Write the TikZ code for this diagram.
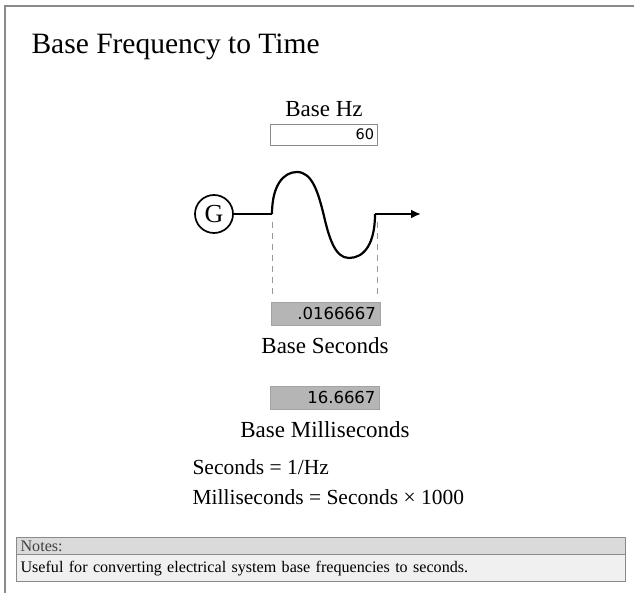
\documentclass[tikz,border=0pt]{standalone}
\usepackage{fontspec}
\setmainfont{Liberation Serif}
\newfontfamily\numfont{DejaVu Sans}
\usetikzlibrary{arrows.meta}
\definecolor{framegray}{HTML}{8A8A8A}
\definecolor{valfill}{HTML}{B5B5B5}
\definecolor{nhfill}{HTML}{DADADA}
\definecolor{nbfill}{HTML}{F0F0F0}
\begin{document}
\begin{tikzpicture}[x=1pt,y=-1pt,
  serif/.style={font=\fontsize{23}{27}\selectfont},
  formula/.style={font=\fontsize{21.5}{25}\selectfont},
  inbox/.style={draw=framegray, line width=0.8pt, fill=white, minimum width=107pt, minimum height=21pt,
    text width=101pt, align=right, inner sep=3pt, font=\numfont\fontsize{14.5}{16}\selectfont},
  valbox/.style={draw=valfill!90!black, line width=0.5pt, fill=valfill, minimum width=109pt, minimum height=23pt,
    text width=101pt, align=right, inner xsep=4pt, inner ysep=2pt, font=\numfont\fontsize{16.5}{18}\selectfont},
  wire/.style={line width=2.2pt, black},
  guide/.style={draw=gray!80, line width=1pt, dash pattern=on 6pt off 5pt},
  notebox/.style={draw=framegray, line width=1.2pt, minimum width=609pt, text width=601pt, align=left,
    inner xsep=4pt, anchor=north west, font=\fontsize{16.1}{19}\selectfont}
]
\useasboundingbox (0,0) rectangle (634,593);
\fill[white] (0,0) rectangle (634,593);
% outer frame
\draw[framegray, line width=2.6pt] (5,593) -- (5,6) -- (634,6);

\node[anchor=base west, font=\fontsize{29.5}{34}\selectfont] (title) at (28,54) {Base Frequency to Time};

\node[anchor=base, serif] (hzlabel) at (324,117) {Base Hz};
\node[inbox] (hz) at (323.5,134.5) {60};

\node[circle, draw, line width=1.7pt, minimum size=38pt, inner sep=0pt, font=\fontsize{26}{26}\selectfont] (gen) at (214,214) {G};
\coordinate (w0) at (272,214);
\coordinate (peak) at (297,172);
\coordinate (mid) at (323.5,214);
\coordinate (trough) at (349,258);
\coordinate (w1) at (375,214);
\coordinate (tip) at (421,214);
\draw[wire] (gen) -- (w0);
\draw[wire, line join=round] (w0) .. controls (272,186) and (283,172) .. (peak)
  .. controls (312,172) and (318,192) .. (mid)
  .. controls (329,238) and (335,258) .. (trough)
  .. controls (364,258) and (375,244) .. (w1);
\draw[wire, -{Latex[length=10pt,width=9pt]}] (w1) -- (tip);

\coordinate (d1a) at (272,222);
\coordinate (d1b) at (272,297);
\coordinate (d2a) at (377,222);
\coordinate (d2b) at (377,297);
\draw[guide] (d1a) -- (d1b);
\draw[guide] (d2a) -- (d2b);

\node[valbox] (sec) at (325.5,313.5) {.0166667};
\node[serif] (seclabel) at (325,346) {Base Seconds};

\node[valbox] (ms) at (325,397.5) {16.6667};
\node[serif] (mslabel) at (325,430) {Base Milliseconds};

\node[anchor=base west, formula] (f1) at (189,474) {Seconds = 1/Hz};
\node[anchor=base west, formula] (f2) at (189,504) {Milliseconds = Seconds × 1000};

\node[notebox, fill=nhfill, minimum height=17pt, inner ysep=1pt, text=black!75] (nh) at (16,537) {Notes:};
\node[notebox, fill=nbfill, minimum height=27pt, inner ysep=3pt] (nb) at (16,554) {Useful for converting electrical system base frequencies to seconds.};
\end{tikzpicture}
\end{document}
